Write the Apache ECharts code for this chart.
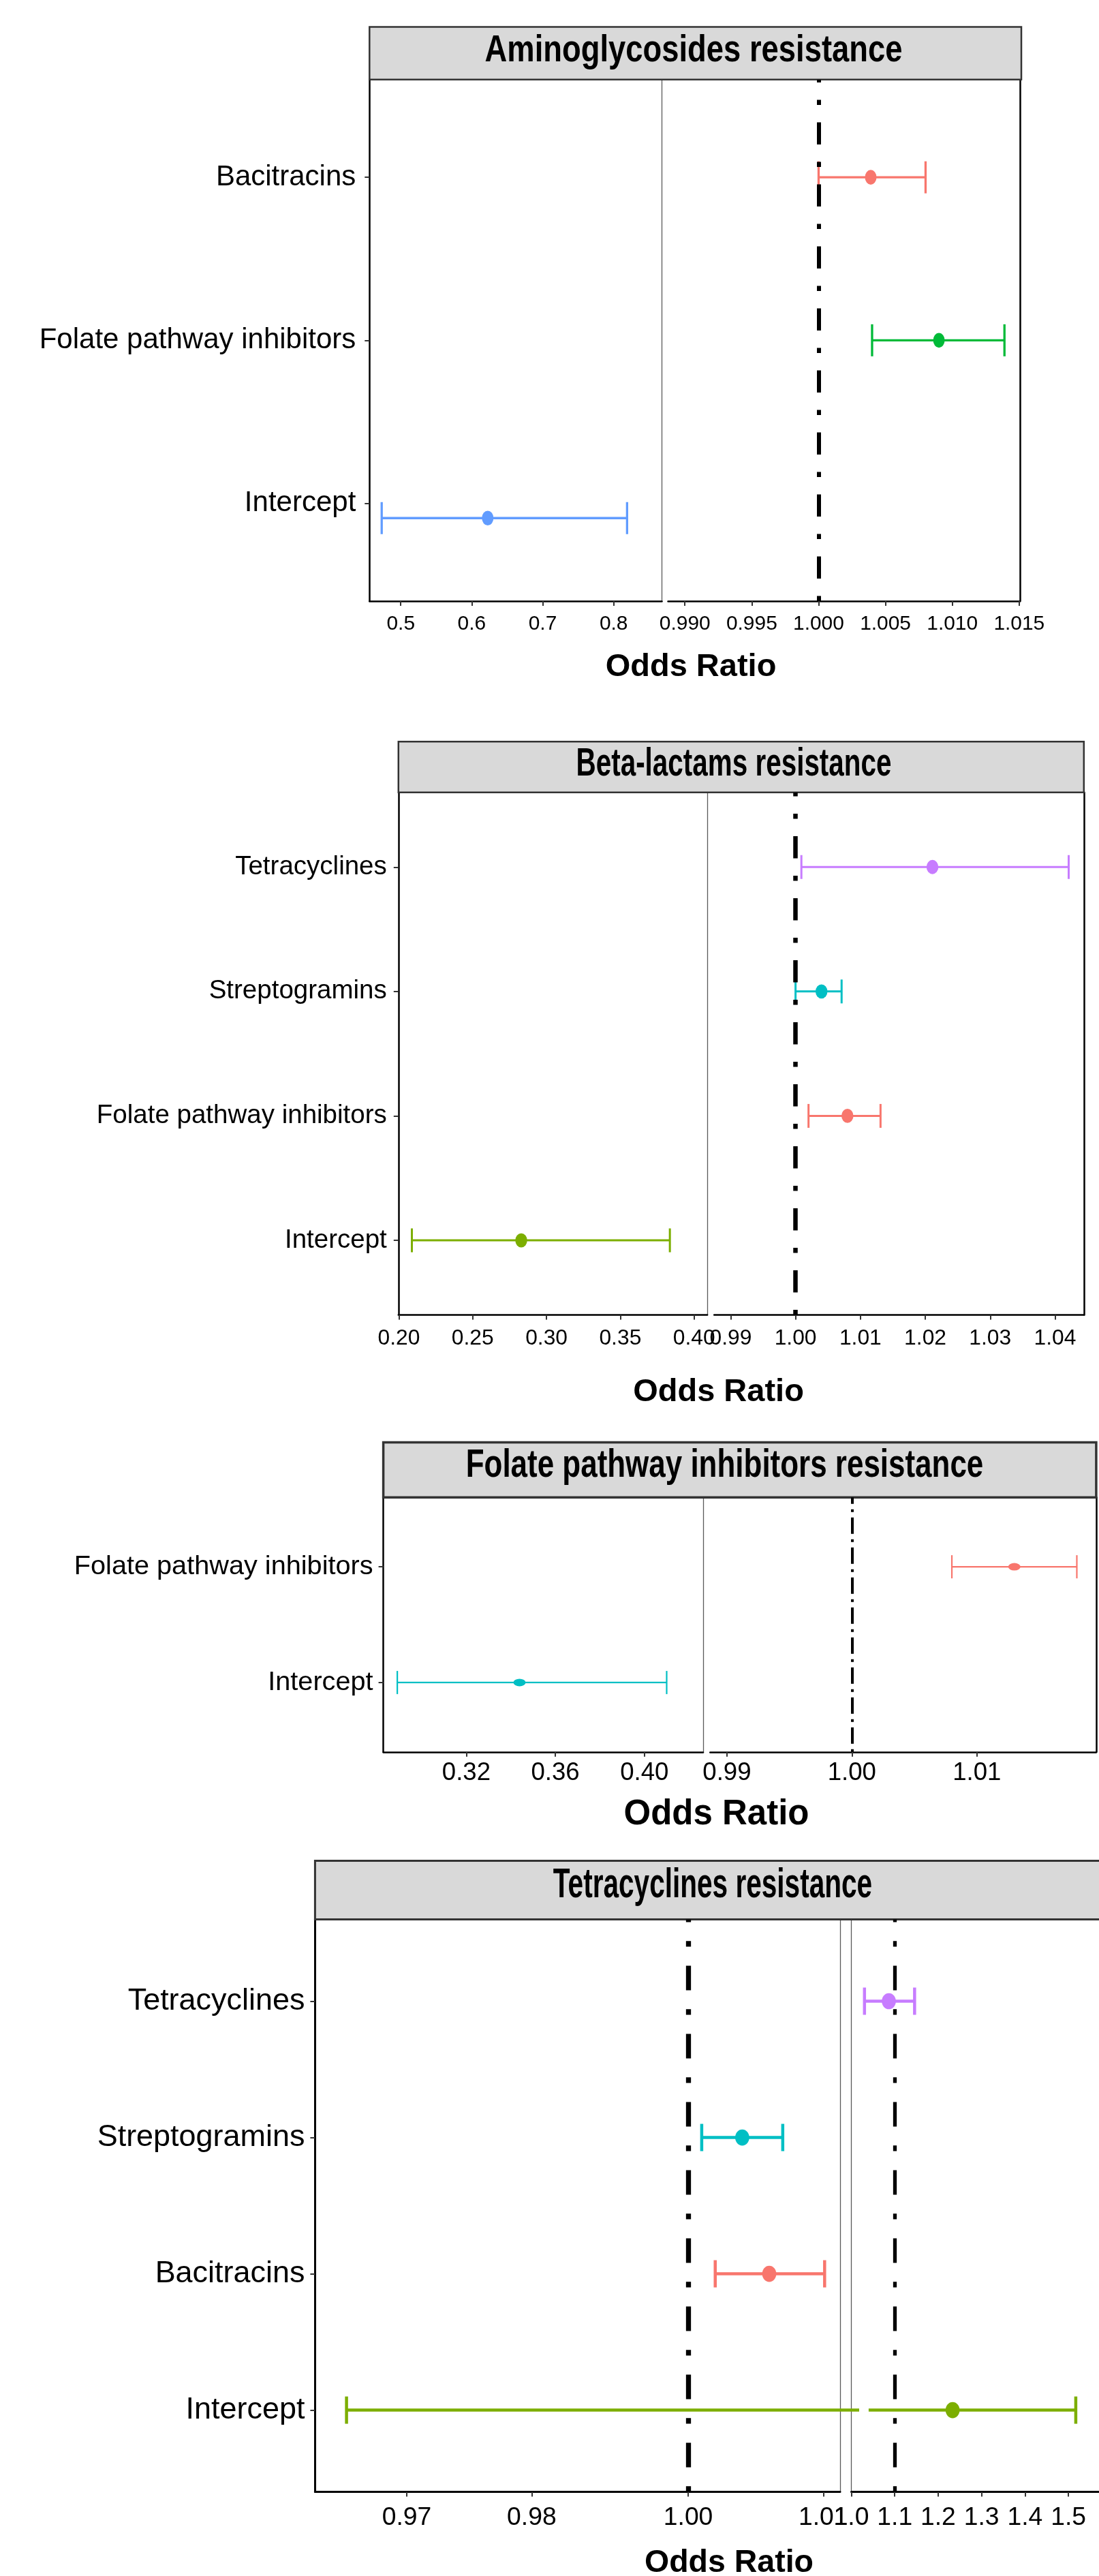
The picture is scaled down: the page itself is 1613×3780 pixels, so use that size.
<!DOCTYPE html>
<html>
<head>
<meta charset="utf-8">
<script src="https://cdn.jsdelivr.net/npm/echarts/dist/echarts.min.js"></script>
<style>
  html, body { margin: 0; padding: 0; background: #ffffff; }
  #chart { width: 1613px; height: 3780px; }
</style>
</head>
<body>
<div id="chart"></div>
<script>
// ---------------- DATA (categories listed bottom -> top) ----------------
// Panel 1
const p1Title = 'Aminoglycosides resistance';
const p1Categories = ['Intercept', 'Folate pathway inhibitors', 'Bacitracins'];
const p1OddsRatio = [0.6225, 1.0090, 1.0039];
const p1Lower     = [0.4731, 1.0040, 1.0000];
const p1Upper     = [0.8189, 1.0139, 1.0080];
const p1LeftRange  = [0.4559, 0.8680];
const p1RightRange = [0.98874, 1.01506];
const p1LeftTicks = [0.5, 0.6, 0.7, 0.8];
const p1LeftTickLabels = ['0.5', '0.6', '0.7', '0.8'];
const p1RightTicks = [0.990, 0.995, 1.000, 1.005, 1.010, 1.015];
const p1RightTickLabels = ['0.990', '0.995', '1.000', '1.005', '1.010', '1.015'];
const p1LeftRefs = [];
const p1RightRefs = [1];

// Panel 2
const p2Title = 'Beta-lactams resistance';
const p2Categories = ['Intercept', 'Folate pathway inhibitors', 'Streptogramins', 'Tetracyclines'];
const p2OddsRatio = [0.2829, 1.0080, 1.0040, 1.0211];
const p2Lower     = [0.2088, 1.0020, 1.0000, 1.0009];
const p2Upper     = [0.3836, 1.0131, 1.0071, 1.0421];
const p2LeftRange  = [0.1997, 0.40896];
const p2RightRange = [0.98746, 1.04444];
const p2LeftTicks = [0.20, 0.25, 0.30, 0.35, 0.40];
const p2LeftTickLabels = ['0.20', '0.25', '0.30', '0.35', '0.40'];
const p2RightTicks = [0.99, 1.00, 1.01, 1.02, 1.03, 1.04];
const p2RightTickLabels = ['0.99', '1.00', '1.01', '1.02', '1.03', '1.04'];
const p2LeftRefs = [];
const p2RightRefs = [1];

// Panel 3
const p3Title = 'Folate pathway inhibitors resistance';
const p3Categories = ['Intercept', 'Folate pathway inhibitors'];
const p3OddsRatio = [0.3439, 1.0130];
const p3Lower     = [0.2890, 1.0080];
const p3Upper     = [0.4100, 1.0180];
const p3LeftRange  = [0.28272, 0.42638];
const p3RightRange = [0.98866, 1.01955];
const p3LeftTicks = [0.32, 0.36, 0.40];
const p3LeftTickLabels = ['0.32', '0.36', '0.40'];
const p3RightTicks = [0.99, 1.00, 1.01];
const p3RightTickLabels = ['0.99', '1.00', '1.01'];
const p3LeftRefs = [];
const p3RightRefs = [1];

// Panel 4
const p4Title = 'Tetracyclines resistance';
const p4Categories = ['Intercept', 'Bacitracins', 'Streptogramins', 'Tetracyclines'];
const p4OddsRatio = [1.2333, 1.0060, 1.0040, 1.0864];
const p4Lower     = [0.9747, 1.0020, 1.0010, 1.0303];
const p4Upper     = [1.5170, 1.0101, 1.0070, 1.1457];
const p4LeftRange  = [0.97237, 1.011246];
const p4RightRange = [1.0, 1.5705];
const p4LeftTicks = [0.97916, 0.98841, 1.00, 1.01];
const p4LeftTickLabels = ['0.97', '0.98', '1.00', '1.01'];
const p4RightTicks = [1.0, 1.1, 1.2, 1.3, 1.4, 1.5];
const p4RightTickLabels = ['1.0', '1.1', '1.2', '1.3', '1.4', '1.5'];
const p4LeftRefs = [1];
const p4RightRefs = [1.1];

const xAxisTitle = 'Odds Ratio';

// ---------------- STYLE / LAYOUT ----------------
const p1Colors = ['#619CFF', '#00BA38', '#F8766D'];
const p2Colors = ['#7CAE00', '#F8766D', '#00BFC4', '#C77CFF'];
const p3Colors = ['#00BFC4', '#F8766D'];
const p4Colors = ['#7CAE00', '#F8766D', '#00BFC4', '#C77CFF'];

const layouts = [
  { stripTop: 39.5, top: 116.7, bottom: 882, lx0: 542.3, lx1: 971.5, rx0: 980.5, rx1: 1497, sx0: 542.3, sx1: 1499,
    titleX: 1018, titleY: 74.3, titleSize: 56, titleW: 613, stripLW: 2.5,
    oddsX: 1014, oddsY: 979, oddsSize: 47,
    yLab: { size: 42, condensed: false, margin: 20 }, xLab: { size: 28.5, condensed: true, center: 34 },
    leftShift: 0.091, axisW: 2.5, rightGridBorder: 'right',
    refW: [6, 6], dash: [7.5, 25.5, 32.5, 25.5],
    sym: [17, 21.7], barW: 3.3, capH: 47 },
  { stripTop: 1088.2, top: 1162.7, bottom: 1929.6, lx0: 584.8, lx1: 1038.1, rx0: 1048.2, rx1: 1590.8, sx0: 584.8, sx1: 1590.8,
    titleX: 1077, titleY: 1122, titleSize: 57, titleW: 463, stripLW: 2.5,
    oddsX: 1054.5, oddsY: 2043, oddsSize: 47,
    yLab: { size: 36.7, condensed: true, margin: 17 }, xLab: { size: 30.3, condensed: true, center: 34.3 },
    leftShift: 0, axisW: 2.5, rightGridBorder: 'right',
    refW: [6.5, 6.5], dash: [7.5, 25.5, 32.5, 25.5],
    sym: [17.5, 20.8], barW: 3, capH: 35 },
  { stripTop: 2116.4, top: 2197.2, bottom: 2570.8, lx0: 562.6, lx1: 1032, rx0: 1042.3, rx1: 1608.9, sx0: 562.6, sx1: 1608.9,
    titleX: 1063.5, titleY: 2151.4, titleSize: 57, titleW: 759.6, stripLW: 3.5,
    oddsX: 1051.5, oddsY: 2662.8, oddsSize: 51,
    yLab: { size: 37.8, condensed: true, margin: 15 }, xLab: { size: 36.6, condensed: false, center: 30.5 },
    leftShift: 0, axisW: 2.5, rightGridBorder: 'right',
    refW: [4, 4], dash: [4, 8, 24, 8],
    sym: [18, 11], barW: 2.2, capH: 34 },
  { stripTop: 2730.4, top: 2816.5, bottom: 3656.6, lx0: 462.4, lx1: 1233, rx0: 1249.5, rx1: 1630, sx0: 462.4, sx1: 1640,
    titleX: 1046, titleY: 2767.1, titleSize: 60.6, titleW: 468.3, stripLW: 3,
    oddsX: 1070, oddsY: 3761, oddsSize: 46.5,
    yLab: { size: 42.8, condensed: true, margin: 15 }, xLab: { size: 35.5, condensed: true, center: 37.8 },
    leftShift: 0, axisW: 3, rightGridBorder: 'left',
    refW: [7.3, 5.3], dash: [8.3, 27.7, 36, 28],
    sym: [20.7, 23.7], barW: 4.5, capH: 40 }
];
const GAP_START = 25.4;   // px gap where a broken bar resumes in the right sub-panel
const OVERRUN = 28;       // px a broken bar runs past the left sub-panel edge
const REGULAR = '"Liberation Sans", Arial, Helvetica, sans-serif';
const NARROW_RATIO = 0.82;
const CONDENSED_FALLBACK_BOOST = 1.05;

function hasFont(name) {
  const ctx = document.createElement('canvas').getContext('2d');
  const s = 'abcdefghijklmnopqrstuvwxyz0123456789ABCDEF';
  ctx.font = '40px monospace';
  const a = ctx.measureText(s).width;
  ctx.font = '40px "' + name + '", monospace';
  const b = ctx.measureText(s).width;
  return Math.abs(a - b) > 1;
}
const narrowName = hasFont('Liberation Sans Narrow') ? 'Liberation Sans Narrow' : (hasFont('Arial Narrow') ? 'Arial Narrow' : null);
function labelFont(spec) {
  if (spec.condensed && narrowName) return { fontFamily: '"' + narrowName + '", ' + REGULAR, fontSize: spec.size / NARROW_RATIO };
  if (spec.condensed) return { fontFamily: REGULAR, fontSize: spec.size * CONDENSED_FALLBACK_BOOST };
  return { fontFamily: REGULAR, fontSize: spec.size };
}
function textWidth(font, text) {
  const ctx = document.createElement('canvas').getContext('2d');
  ctx.font = font;
  return ctx.measureText(text).width;
}

const panels = [
  { title: p1Title, cats: p1Categories, or: p1OddsRatio, lo: p1Lower, hi: p1Upper, colors: p1Colors,
    left: { range: p1LeftRange, ticks: p1LeftTicks, labels: p1LeftTickLabels, refs: p1LeftRefs },
    right: { range: p1RightRange, ticks: p1RightTicks, labels: p1RightTickLabels, refs: p1RightRefs } },
  { title: p2Title, cats: p2Categories, or: p2OddsRatio, lo: p2Lower, hi: p2Upper, colors: p2Colors,
    left: { range: p2LeftRange, ticks: p2LeftTicks, labels: p2LeftTickLabels, refs: p2LeftRefs },
    right: { range: p2RightRange, ticks: p2RightTicks, labels: p2RightTickLabels, refs: p2RightRefs } },
  { title: p3Title, cats: p3Categories, or: p3OddsRatio, lo: p3Lower, hi: p3Upper, colors: p3Colors,
    left: { range: p3LeftRange, ticks: p3LeftTicks, labels: p3LeftTickLabels, refs: p3LeftRefs },
    right: { range: p3RightRange, ticks: p3RightTicks, labels: p3RightTickLabels, refs: p3RightRefs } },
  { title: p4Title, cats: p4Categories, or: p4OddsRatio, lo: p4Lower, hi: p4Upper, colors: p4Colors,
    left: { range: p4LeftRange, ticks: p4LeftTicks, labels: p4LeftTickLabels, refs: p4LeftRefs },
    right: { range: p4RightRange, ticks: p4RightTicks, labels: p4RightTickLabels, refs: p4RightRefs } }
];

const option = { animation: false, grid: [], xAxis: [], yAxis: [], series: [], graphic: [] };

function labelFor(ticks, labels, v) {
  let best = 0, d = Infinity;
  ticks.forEach((t, i) => { const dd = Math.abs(t - v); if (dd < d) { d = dd; best = i; } });
  return labels[best];
}

panels.forEach((p, k) => {
  const L = layouts[k];
  const n = p.cats.length;
  const h = L.bottom - L.top;
  const xf = labelFont(L.xLab);
  const yf = labelFont(L.yLab);
  const cats = p.cats;
  const leftMax = p.left.range[1];

  const sides = [
    { key: 'left', x0: L.lx0, x1: L.lx1, cfg: p.left, refW: L.refW[0] },
    { key: 'right', x0: L.rx0, x1: L.rx1, cfg: p.right, refW: L.refW[1] }
  ];
  sides.forEach((s) => {
    const gi = option.grid.length;
    option.grid.push({ left: s.x0, top: L.top, width: s.x1 - s.x0, height: h, containLabel: false });
    const xi = option.xAxis.length;
    const ticks = s.cfg.ticks, labels = s.cfg.labels;
    option.xAxis.push({
      type: 'value', gridIndex: gi, min: s.cfg.range[0], max: s.cfg.range[1],
      axisLine: { show: true, onZero: false, lineStyle: { color: '#000', width: L.axisW } },
      axisTick: { show: true, customValues: ticks, length: 7, lineStyle: { color: '#333', width: 2 } },
      axisLabel: { show: true, customValues: ticks, formatter: (v) => labelFor(ticks, labels, v),
        color: '#000', fontFamily: xf.fontFamily, fontSize: xf.fontSize, margin: L.xLab.center - xf.fontSize / 2 },
      splitLine: { show: false }
    });
    let dataY;
    if (s.key === 'left') {
      option.yAxis.push({
        type: 'value', gridIndex: gi, position: 'left', min: 0.4, max: n + 0.6,
        axisLine: { show: true, onZero: false, lineStyle: { color: '#000', width: L.axisW } },
        axisTick: { show: true, customValues: cats.map((c, i) => i + 1), length: 7, lineStyle: { color: '#333', width: 2 } },
        axisLabel: { show: true, customValues: cats.map((c, i) => i + 1), formatter: (v) => cats[Math.round(v) - 1],
          color: '#000', fontFamily: yf.fontFamily, fontSize: yf.fontSize, margin: L.yLab.margin },
        splitLine: { show: false }
      });
      dataY = option.yAxis.length;
      option.yAxis.push({
        type: 'value', gridIndex: gi, position: 'right', min: 0.4 + L.leftShift, max: n + 0.6 + L.leftShift,
        axisLine: { show: true, onZero: false, lineStyle: { color: '#5a5a5a', width: 1.3 } },
        axisTick: { show: false }, axisLabel: { show: false }, splitLine: { show: false }
      });
    } else {
      dataY = option.yAxis.length;
      const thick = L.rightGridBorder === 'right';
      option.yAxis.push({
        type: 'value', gridIndex: gi, position: L.rightGridBorder, min: 0.4, max: n + 0.6,
        axisLine: { show: true, onZero: false, lineStyle: { color: thick ? '#000' : '#5a5a5a', width: thick ? L.axisW : 1.3 } },
        axisTick: { show: false }, axisLabel: { show: false }, splitLine: { show: false }
      });
    }
    const mn = s.cfg.range[0], mx = s.cfg.range[1];
    // values up to the left sub-panel's max belong to the left sub-panel
    const effMn = s.key === 'right' ? Math.max(mn, leftMax) : mn;
    const barData = [];
    p.or.forEach((v, i) => {
      if (s.key === 'left' && p.lo[i] > mx) return;
      if (s.key === 'right' && p.hi[i] <= effMn) return;
      barData.push({ value: [p.lo[i], p.hi[i], i + 1], itemStyle: { color: p.colors[i] } });
    });
    option.series.push({
      type: 'custom', xAxisIndex: xi, yAxisIndex: dataY, clip: false, silent: true, z: 3,
      encode: { x: [0, 1], y: 2 },
      renderItem: (params, api) => {
        const lo = api.value(0), hi = api.value(1), yv = api.value(2);
        const y = api.coord([mn, yv])[1];
        let x0, x1, c0 = true, c1 = true;
        if (lo < effMn) { x0 = api.coord([mn, yv])[0] + GAP_START; c0 = false; } else { x0 = api.coord([lo, yv])[0]; }
        if (hi > mx) { x1 = api.coord([mx, yv])[0] + OVERRUN; c1 = false; } else { x1 = api.coord([hi, yv])[0]; }
        const st = { stroke: api.visual('color'), lineWidth: L.barW };
        const ch = [{ type: 'line', shape: { x1: x0, y1: y, x2: x1, y2: y }, style: st }];
        if (c0) ch.push({ type: 'line', shape: { x1: x0, y1: y - L.capH / 2, x2: x0, y2: y + L.capH / 2 }, style: st });
        if (c1) ch.push({ type: 'line', shape: { x1: x1, y1: y - L.capH / 2, x2: x1, y2: y + L.capH / 2 }, style: st });
        return { type: 'group', children: ch };
      },
      data: barData
    });
    const ptData = [];
    p.or.forEach((v, i) => {
      const inLeft = v >= p.left.range[0] && v <= leftMax;
      if (s.key === 'left' ? !inLeft : (inLeft || v < mn || v > mx)) return;
      ptData.push({ value: [v, i + 1], itemStyle: { color: p.colors[i] } });
    });
    option.series.push({
      type: 'scatter', xAxisIndex: xi, yAxisIndex: dataY, silent: true, z: 4,
      symbol: 'circle', symbolSize: L.sym, itemStyle: { opacity: 1 },
      data: ptData,
      markLine: s.cfg.refs.length ? {
        silent: true, symbol: ['none', 'none'], label: { show: false }, animation: false,
        lineStyle: { color: '#000', width: s.refW, type: L.dash, opacity: 1 },
        emphasis: { disabled: true },
        data: s.cfg.refs.map((r) => ({ xAxis: r }))
      } : undefined
    });
  });

  // facet strip
  option.graphic.push({
    type: 'rect', z: 1, silent: true,
    shape: { x: L.sx0, y: L.stripTop, width: L.sx1 - L.sx0, height: L.top - L.stripTop },
    style: { fill: '#D9D9D9', stroke: '#333333', lineWidth: L.stripLW }
  });
  const tFont = 'bold ' + L.titleSize + 'px ' + REGULAR;
  const tw = textWidth(tFont, p.title);
  option.graphic.push({
    type: 'text', z: 20, silent: true, x: L.titleX, y: L.titleY, scaleX: L.titleW / tw, scaleY: 1,
    style: { text: p.title, x: 0, y: 0, font: tFont, fill: '#000', textAlign: 'center', textVerticalAlign: 'middle', align: 'center', verticalAlign: 'middle' }
  });
  option.graphic.push({
    type: 'text', z: 20, silent: true, x: L.oddsX, y: L.oddsY,
    style: { text: xAxisTitle, x: 0, y: 0, font: 'bold ' + L.oddsSize + 'px ' + REGULAR, fill: '#000',
      textAlign: 'center', textVerticalAlign: 'middle', align: 'center', verticalAlign: 'middle' }
  });
});

const chart = echarts.init(document.getElementById('chart'), null, { renderer: 'canvas', width: 1613, height: 3780 });
chart.setOption(option);
</script>
</body>
</html>
